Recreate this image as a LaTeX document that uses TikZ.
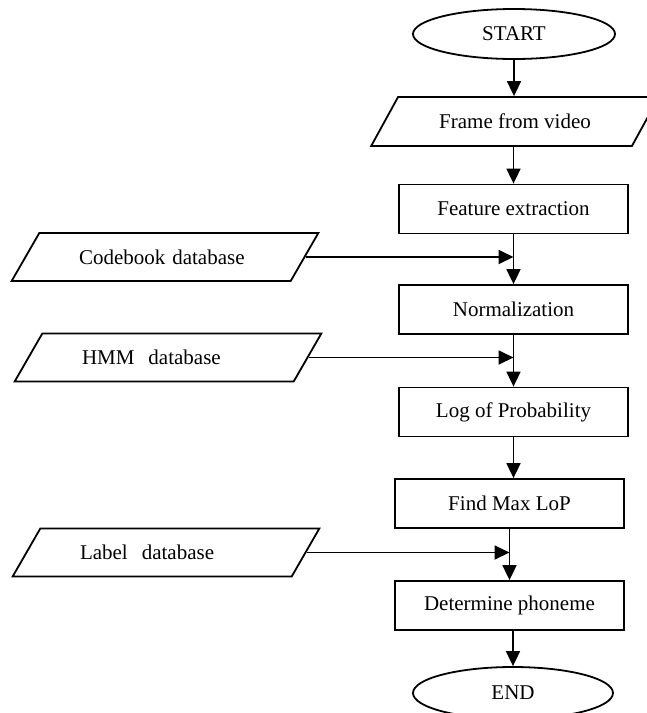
\documentclass[tikz,border=0pt]{standalone}
\usepackage{fontspec}
\setmainfont{Liberation Serif}
\usetikzlibrary{shapes.geometric,arrows.meta}
\begin{document}
\begin{tikzpicture}[x=1pt,y=-1pt,
  lw/.style={line width=1.8pt},
  arr/.style={lw,-{Triangle[length=15pt,width=14pt]}},
  txt/.style={font=\fontsize{21}{25}\selectfont},
  proc/.style={draw,lw,txt,minimum width=229pt,minimum height=49pt,inner sep=0pt},
  term/.style={draw,lw,txt,ellipse,minimum width=202pt,minimum height=50pt,inner sep=0pt},
  io/.style={draw,lw,txt,trapezium,trapezium stretches=true,
    trapezium left angle=38,trapezium right angle=142,
    minimum width=307pt,minimum height=48pt,inner sep=0pt},
  db/.style={io,text width=172pt,align=left}
]
\useasboundingbox (0,0) rectangle (647,713);

\node[term] (start) at (514,34) {START};
\node[io,trapezium left angle=40.7,trapezium right angle=139.3,
      minimum width=288pt,minimum height=49pt] (frame) at (515,121.5) {Frame from video};
\node[proc] (feature) at (513.5,209) {Feature extraction};
\node[db] (codebook) at (165,257) {Codebook database};
\node[proc] (norm) at (513.5,309.5) {Normalization};
\node[db] (hmm) at (168,357.5) {HMM\ \ database};
\node[proc] (logp) at (513.5,412) {Log of Probability};
\node[proc] (maxlop) at (509.5,503.5) {Find Max LoP};
\node[db] (label) at (166,552.5) {Label\ \ database};
\node[proc] (phon) at (509.5,605.5) {Determine phoneme};
\node[term,minimum width=200pt,minimum height=52pt] (end) at (513,693) {END};

\draw[arr] (start.south) -- (start.south |- frame.north);
\draw[arr] (feature.north |- frame.south) -- (feature.north);
\draw[arr] (feature) -- (norm);
\draw[arr] (norm) -- (logp);
\draw[arr] (logp.south) -- (logp.south |- maxlop.north);
\draw[arr] (maxlop) -- (phon);
\draw[arr] (end.north |- phon.south) -- (end.north);

\draw[arr] (codebook.0) -- (codebook.0 -| feature.south);
\draw[arr] (hmm.0) -- (hmm.0 -| norm.south);
\draw[arr] (label.0) -- (label.0 -| maxlop.south);
\end{tikzpicture}
\end{document}
